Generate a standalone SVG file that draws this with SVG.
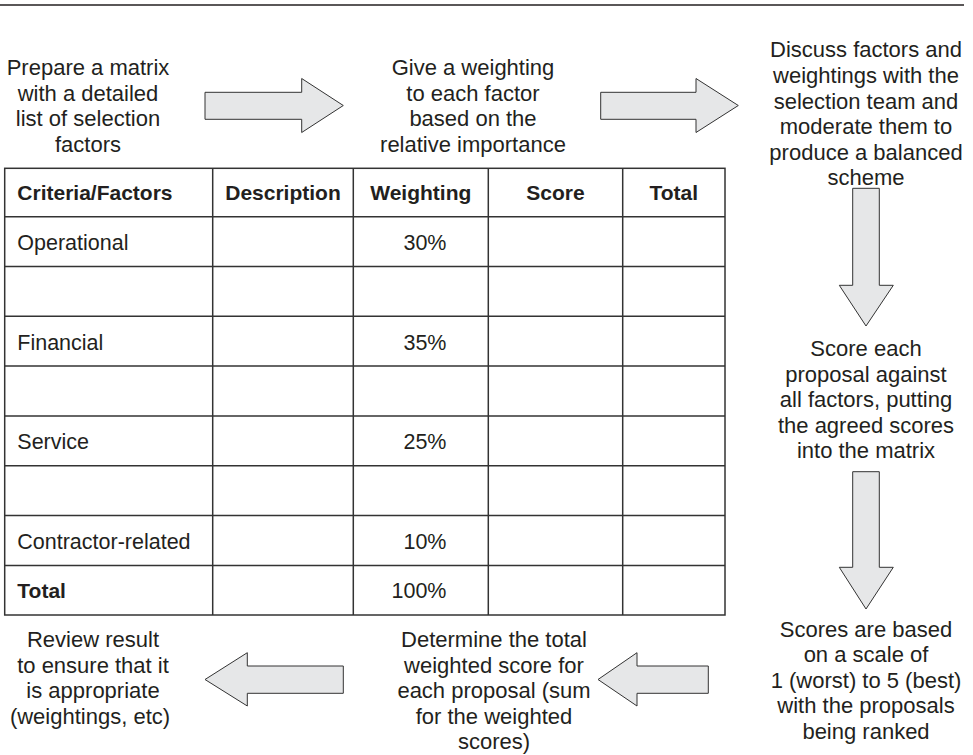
<svg xmlns="http://www.w3.org/2000/svg" width="973" height="755" viewBox="0 0 973 755">
<defs>
<style>
.t{font-family:"Liberation Sans",Arial,sans-serif;font-size:22px;fill:#231f20;text-anchor:middle}
.c{font-family:"Liberation Sans",Arial,sans-serif;font-size:21.5px;fill:#231f20}
.b{font-weight:bold;font-size:21px}
.m{text-anchor:middle}
.e{text-anchor:end}
.arr{fill:#e6e7e8;stroke:#333;stroke-width:1}
.g{stroke:#333;stroke-width:1.5;fill:none}
</style>
</defs>
<rect width="973" height="755" fill="#fff"/>
<line x1="0" y1="5" x2="964" y2="5" stroke="#231f20" stroke-width="1.6"/>

<g id="step1">
<text class="t"><tspan x="88" y="75">Prepare a matrix</tspan><tspan x="88" y="100.5">with a detailed</tspan><tspan x="88" y="126">list of selection</tspan><tspan x="88" y="151.5">factors</tspan></text>
</g>
<g id="step2">
<text class="t"><tspan x="473" y="75">Give a weighting</tspan><tspan x="473" y="100.5">to each factor</tspan><tspan x="473" y="126">based on the</tspan><tspan x="473" y="151.5">relative importance</tspan></text>
</g>
<g id="step3">
<text class="t"><tspan x="866" y="57.3">Discuss factors and</tspan><tspan x="866" y="83">weightings with the</tspan><tspan x="866" y="108.6">selection team and</tspan><tspan x="866" y="134.2">moderate them to</tspan><tspan x="866" y="159.8">produce a balanced</tspan><tspan x="866" y="185.4">scheme</tspan></text>
</g>
<g id="step4">
<text class="t"><tspan x="866" y="356">Score each</tspan><tspan x="866" y="381.5">proposal against</tspan><tspan x="866" y="407">all factors, putting</tspan><tspan x="866" y="432.5">the agreed scores</tspan><tspan x="866" y="458">into the matrix</tspan></text>
</g>
<g id="step5">
<text class="t"><tspan x="866" y="636.7">Scores are based</tspan><tspan x="866" y="662.2">on a scale of</tspan><tspan x="866" y="687.7">1 (worst) to 5 (best)</tspan><tspan x="866" y="713.2">with the proposals</tspan><tspan x="866" y="738.7">being ranked</tspan></text>
</g>
<g id="step6">
<text class="t"><tspan x="494" y="647">Determine the total</tspan><tspan x="494" y="672.6">weighted score for</tspan><tspan x="494" y="698.2">each proposal (sum</tspan><tspan x="494" y="723.8">for the weighted</tspan><tspan x="494" y="749.4">scores)</tspan></text>
</g>
<g id="step7">
<text class="t"><tspan x="93" y="647">Review result</tspan><tspan x="93" y="672.6">to ensure that it</tspan><tspan x="93" y="698.2">is appropriate</tspan><tspan x="90" y="723.8">(weightings, etc)</tspan></text>
</g>

<g id="matrix">
<rect class="g" x="4.7" y="168.3" width="720.3" height="446.7"/>
<g class="g">
<line x1="4.7" y1="216.7" x2="725" y2="216.7"/>
<line x1="4.7" y1="266.5" x2="725" y2="266.5"/>
<line x1="4.7" y1="316.3" x2="725" y2="316.3"/>
<line x1="4.7" y1="366.1" x2="725" y2="366.1"/>
<line x1="4.7" y1="415.9" x2="725" y2="415.9"/>
<line x1="4.7" y1="465.7" x2="725" y2="465.7"/>
<line x1="4.7" y1="515.5" x2="725" y2="515.5"/>
<line x1="4.7" y1="565.5" x2="725" y2="565.5"/>
<line x1="212.7" y1="168.3" x2="212.7" y2="615"/>
<line x1="353.3" y1="168.3" x2="353.3" y2="615"/>
<line x1="488.3" y1="168.3" x2="488.3" y2="615"/>
<line x1="622.7" y1="168.3" x2="622.7" y2="615"/>
</g>
<text class="c b" x="17.3" y="200">Criteria/Factors</text>
<text class="c b m" x="283" y="200">Description</text>
<text class="c b m" x="420.8" y="200">Weighting</text>
<text class="c b m" x="555.5" y="200">Score</text>
<text class="c b m" x="673.8" y="200">Total</text>
<text class="c" x="17.3" y="250">Operational</text>
<text class="c e" x="446.5" y="250">30%</text>
<text class="c" x="17.3" y="349.5">Financial</text>
<text class="c e" x="446.5" y="349.5">35%</text>
<text class="c" x="17.3" y="449">Service</text>
<text class="c e" x="446.5" y="449">25%</text>
<text class="c" x="17.3" y="548.5">Contractor-related</text>
<text class="c e" x="446.5" y="548.5">10%</text>
<text class="c b" x="17.3" y="598">Total</text>
<text class="c e" x="446.5" y="598">100%</text>
</g>

<g id="connectors">
<polygon class="arr" points="205,92.3 301.7,92.3 301.7,78.5 343.3,105.5 301.7,132.5 301.7,119.3 205,119.3"/>
<polygon class="arr" points="600.7,92.3 696,92.3 696,78.5 738.3,105.5 696,132.5 696,119.3 600.7,119.3"/>
<polygon class="arr" points="852.7,188.3 879.3,188.3 879.3,285.3 893.3,285.3 866,326 839.3,285.3 852.7,285.3"/>
<polygon class="arr" points="852.7,471.7 879.3,471.7 879.3,567.3 893.3,567.3 866,609 839.3,567.3 852.7,567.3"/>
<polygon class="arr" points="708.3,666 637,666 637,652.7 598,679.5 637,706 637,693.3 708.3,693.3"/>
<polygon class="arr" points="343.3,666 247.3,666 247.3,652.7 205,679.5 247.3,706 247.3,693.3 343.3,693.3"/>
</g>
</svg>
